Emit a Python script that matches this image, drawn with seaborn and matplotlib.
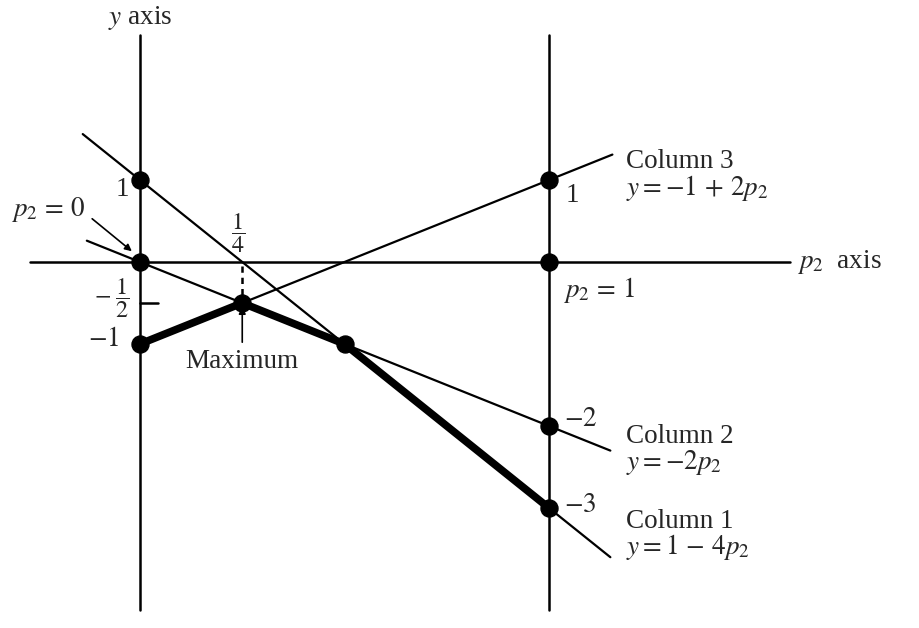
import numpy as np
import pandas as pd
import seaborn as sns
import matplotlib.pyplot as plt

# lines y = a + b*p2 for the three columns, drawn over a p2 range
col_names = ["Column 1", "Column 2", "Column 3"]
col_a = [1, 0, -1]
col_b = [-4, -2, 2]
col_p_start = [-0.14, -0.13, 0.0]
col_p_end = [1.15, 1.15, 1.155]

# lower envelope (thick line)
env_p = [0, 0.25, 0.5, 1]
env_y = [-1, -0.5, -1, -3]

# marked points
dot_p = [0, 0, 0, 0.25, 0.5, 1, 1, 1, 1]
dot_y = [1, 0, -1, -0.5, -1, 1, 0, -2, -3]

sns.set_theme(style="white")
plt.rcParams["font.family"] = ["Liberation Serif", "DejaVu Serif"]
plt.rcParams["mathtext.fontset"] = "stix"

fig = plt.figure(figsize=(9.19, 6.28), dpi=100)
ax = fig.add_axes([0, 0, 1, 1])

# pixel -> data helpers (for annotation placement)
SX, SY = 409.0, 82.0
def px(x):
    return (x - 140) / SX
def py(y):
    return (262 - y) / SY

ax.set_xlim(px(0), px(919))
ax.set_ylim(py(628), py(0))
ax.axis("off")

# axes
ax.plot([0, 0], [py(35), py(610)], color="black", lw=1.8)
ax.plot([1, 1], [py(35), py(610)], color="black", lw=1.8)
ax.plot([px(30), px(790)], [0, 0], color="black", lw=1.8)

for a, b, p0, p1 in zip(col_a, col_b, col_p_start, col_p_end):
    d = pd.DataFrame({"p": [p0, p1]})
    d["y"] = a + b * d["p"]
    sns.lineplot(data=d, x="p", y="y", ax=ax, color="black", lw=1.6, sort=False)

env = pd.DataFrame({"p": env_p, "y": env_y})
sns.lineplot(data=env, x="p", y="y", ax=ax, color="black", lw=5.5, sort=False)

dots = pd.DataFrame({"p": dot_p, "y": dot_y})
sns.scatterplot(data=dots, x="p", y="y", ax=ax, color="black", s=150,
                edgecolor="black", zorder=5)

# tick at -1/2 and dashed tick at 1/4
ax.plot([0, px(158)], [-0.5, -0.5], color="black", lw=1.8)
ax.plot([0.25, 0.25], [py(266), -0.5], color="black", lw=1.8, ls=(0, (2.5, 2)))

fs = 19.5
ax.text(0, py(18), "$y$ axis", ha="center", va="center", fontsize=fs)
ax.text(px(122), py(190), "1", ha="center", va="center", fontsize=fs)
ax.text(px(104), py(340), "$-1$", ha="center", va="center", fontsize=fs)
ax.text(px(112), py(298), r"$-\;\dfrac{1}{2}$", ha="center", va="center", fontsize=fs - 2)
ax.text(px(238), py(233), r"$\dfrac{1}{4}$", ha="center", va="center", fontsize=fs - 2)
ax.text(px(48), py(210), "$p_2\\,=\\,0$", ha="center", va="center", fontsize=fs)
ax.annotate("", xy=(px(134), py(253)), xytext=(px(90), py(217)),
            arrowprops=dict(arrowstyle="-|>", color="black", lw=1.2, mutation_scale=10))
ax.annotate("", xy=(0.25, py(304)), xytext=(0.25, py(345)),
            arrowprops=dict(arrowstyle="-|>", color="black", lw=1.2, mutation_scale=10))
ax.text(0.25, py(362), "Maximum", ha="center", va="center", fontsize=fs)

ax.text(px(572), py(196), "1", ha="center", va="center", fontsize=fs)
ax.text(px(797), py(262), "$p_2$  axis", ha="left", va="center", fontsize=fs)
ax.text(px(563), py(290), "$p_2\\,=\\,1$", ha="left", va="center", fontsize=fs)
ax.text(px(564), py(420), "$-2$", ha="left", va="center", fontsize=fs)
ax.text(px(564), py(506), "$-3$", ha="left", va="center", fontsize=fs)

labels = [("Column 3", "$y = -1\\,+\\,2p_2$", 162),
          ("Column 2", "$y = -2p_2$", 437),
          ("Column 1", "$y = 1\\,-\\,4p_2$", 521)]
for name, eq, ypix in labels:
    ax.text(px(626), py(ypix), name, ha="left", va="center", fontsize=fs)
    ax.text(px(626), py(ypix + 26), eq, ha="left", va="center", fontsize=fs)

fig.savefig("out.png", dpi=100, facecolor="white")
